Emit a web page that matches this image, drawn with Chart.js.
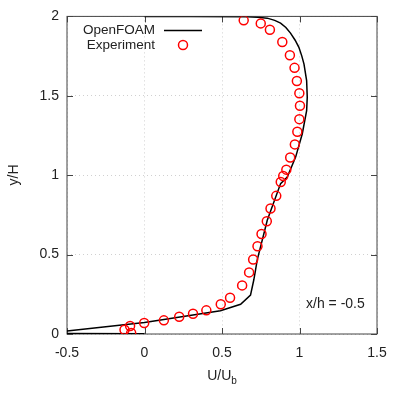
<!DOCTYPE html>
<html>
<head>
<meta charset="utf-8">
<script src="https://cdn.jsdelivr.net/npm/chart.js@4"></script>
<style>
  body { margin: 0; background: #fff; }
  #wrap { width: 400px; height: 400px; }
</style>
</head>
<body>
<div id="wrap"><canvas id="chart" width="400" height="400"></canvas></div>
<script>
// experiment (circles)
const expU = [0.640, 0.750, 0.809, 0.889, 0.938, 0.968, 0.983, 0.999, 1.003, 0.999,
  0.986, 0.970, 0.940, 0.915, 0.895, 0.879, 0.850, 0.813, 0.789, 0.755,
  0.729, 0.701, 0.675, 0.630, 0.552, 0.492, 0.399, 0.313, 0.224, 0.125,
  -0.002, -0.093, -0.129, -0.086];
const expY = [1.975, 1.956, 1.916, 1.839, 1.755, 1.676, 1.593, 1.516, 1.437, 1.353,
  1.274, 1.194, 1.112, 1.035, 0.995, 0.957, 0.870, 0.790, 0.710, 0.630,
  0.553, 0.469, 0.388, 0.306, 0.228, 0.187, 0.149, 0.128, 0.109, 0.086,
  0.069, 0.050, 0.027, 0.006];

// OpenFOAM profile (line)
const cfdU = [0.0, -0.6, -0.6, -0.5, 0.0, 0.25, 0.49, 0.62, 0.684, 0.705,
  0.716, 0.727, 0.792, 0.878, 0.921, 0.975, 1.018, 1.046, 1.050, 1.046,
  1.029, 1.015, 0.996, 0.972, 0.942, 0.912, 0.878, 0.840, 0.792, 0.730,
  0.662, 0.3, 0.0];
const cfdY = [0.001, 0.003, 0.008, 0.019, 0.073, 0.110, 0.146, 0.187, 0.245, 0.340,
  0.400, 0.465, 0.716, 0.947, 0.988, 1.114, 1.261, 1.407, 1.491, 1.596,
  1.700, 1.750, 1.805, 1.850, 1.895, 1.930, 1.958, 1.975, 1.989, 1.995,
  1.998, 1.999, 2.0];

const xTicks = [-0.5, 0, 0.5, 1, 1.5];
const yTicks = [0, 0.5, 1, 1.5, 2];

const FONT = '"Liberation Sans", Arial, sans-serif';
const TXT = '#222';

// gnuplot style frame, inward ticks, legend and labels
const decor = {
  id: 'decor',
  beforeDatasetsDraw(chart) {
    const {ctx, chartArea: a, scales: {x, y}} = chart;
    ctx.save();
    ctx.strokeStyle = '#444';
    ctx.lineWidth = 1;
    ctx.strokeRect(a.left, a.top, a.right - a.left, a.bottom - a.top);
    ctx.beginPath();
    xTicks.forEach(v => {
      const px = Math.round(x.getPixelForValue(v)) + 0.5;
      ctx.moveTo(px, a.bottom); ctx.lineTo(px, a.bottom - 6);
      ctx.moveTo(px, a.top); ctx.lineTo(px, a.top + 6);
    });
    yTicks.forEach(v => {
      const py = Math.round(y.getPixelForValue(v)) + 0.5;
      ctx.moveTo(a.left, py); ctx.lineTo(a.left + 6, py);
      ctx.moveTo(a.right, py); ctx.lineTo(a.right - 6, py);
    });
    ctx.stroke();
    ctx.restore();
  },
  afterDraw(chart) {
    const {ctx, chartArea: a} = chart;
    ctx.save();
    ctx.fillStyle = TXT;
    ctx.textBaseline = 'middle';

    // legend
    ctx.font = '13.5px ' + FONT;
    ctx.textAlign = 'right';
    ctx.fillText('OpenFOAM', 155, 30);
    ctx.fillText('Experiment', 155, 45);
    ctx.strokeStyle = '#000';
    ctx.lineWidth = 1.5;
    ctx.beginPath(); ctx.moveTo(164, 30.5); ctx.lineTo(202, 30.5); ctx.stroke();
    ctx.strokeStyle = '#ff0000';
    ctx.beginPath(); ctx.arc(183, 45, 4.5, 0, Math.PI * 2); ctx.stroke();

    // annotation
    ctx.font = '14px ' + FONT;
    ctx.textAlign = 'left';
    ctx.fillText('x/h = -0.5', 306, 304);

    // x title with subscript
    const cx = (a.left + a.right) / 2;
    const main = 'U/U', sub = 'b';
    const wMain = ctx.measureText(main).width;
    ctx.font = '10px ' + FONT;
    const wSub = ctx.measureText(sub).width;
    const x0 = cx - (wMain + wSub) / 2;
    ctx.font = '14px ' + FONT;
    ctx.fillText(main, x0, 376);
    ctx.font = '10px ' + FONT;
    ctx.fillText(sub, x0 + wMain, 381);

    // y title
    ctx.font = '14px ' + FONT;
    ctx.translate(14, 175);
    ctx.rotate(-Math.PI / 2);
    ctx.textAlign = 'center';
    ctx.fillText('y/H', 0, 0);
    ctx.restore();
  }
};

new Chart(document.getElementById('chart'), {
  type: 'scatter',
  data: {
    datasets: [
      {
        label: 'Experiment',
        data: expU.map((u, i) => ({x: u, y: expY[i]})),
        pointStyle: 'circle',
        pointRadius: 4.5,
        pointBorderWidth: 1.5,
        borderColor: '#ff0000',
        backgroundColor: 'rgba(0,0,0,0)',
        order: 0
      },
      {
        label: 'OpenFOAM',
        data: cfdU.map((u, i) => ({x: u, y: cfdY[i]})),
        showLine: true,
        pointRadius: 0,
        borderColor: '#000',
        borderWidth: 1.5,
        tension: 0,
        order: 1
      }
    ]
  },
  options: {
    responsive: false,
    animation: false,
    layout: { padding: { top: 16, right: 23, left: 0, bottom: 0 } },
    plugins: { legend: { display: false }, tooltip: { enabled: false } },
    scales: {
      x: {
        type: 'linear',
        min: -0.5, max: 1.5,
        afterBuildTicks: s => { s.ticks = xTicks.map(v => ({value: v})); },
        afterFit: s => { s.height = 66; },
        grid: { color: '#d0d0d0', drawTicks: false },
        border: { display: false, dash: [1, 3] },
        ticks: { padding: 11, color: TXT, font: { family: FONT, size: 14 },
                 callback: v => String(v) }
      },
      y: {
        type: 'linear',
        min: 0, max: 2,
        afterBuildTicks: s => { s.ticks = yTicks.map(v => ({value: v})); },
        afterFit: s => { s.width = 67; },
        grid: { color: '#d0d0d0', drawTicks: false },
        border: { display: false, dash: [1, 3] },
        ticks: { padding: 8, color: TXT, font: { family: FONT, size: 14 },
                 callback: v => String(v) }
      }
    }
  },
  plugins: [decor]
});
</script>
</body>
</html>
